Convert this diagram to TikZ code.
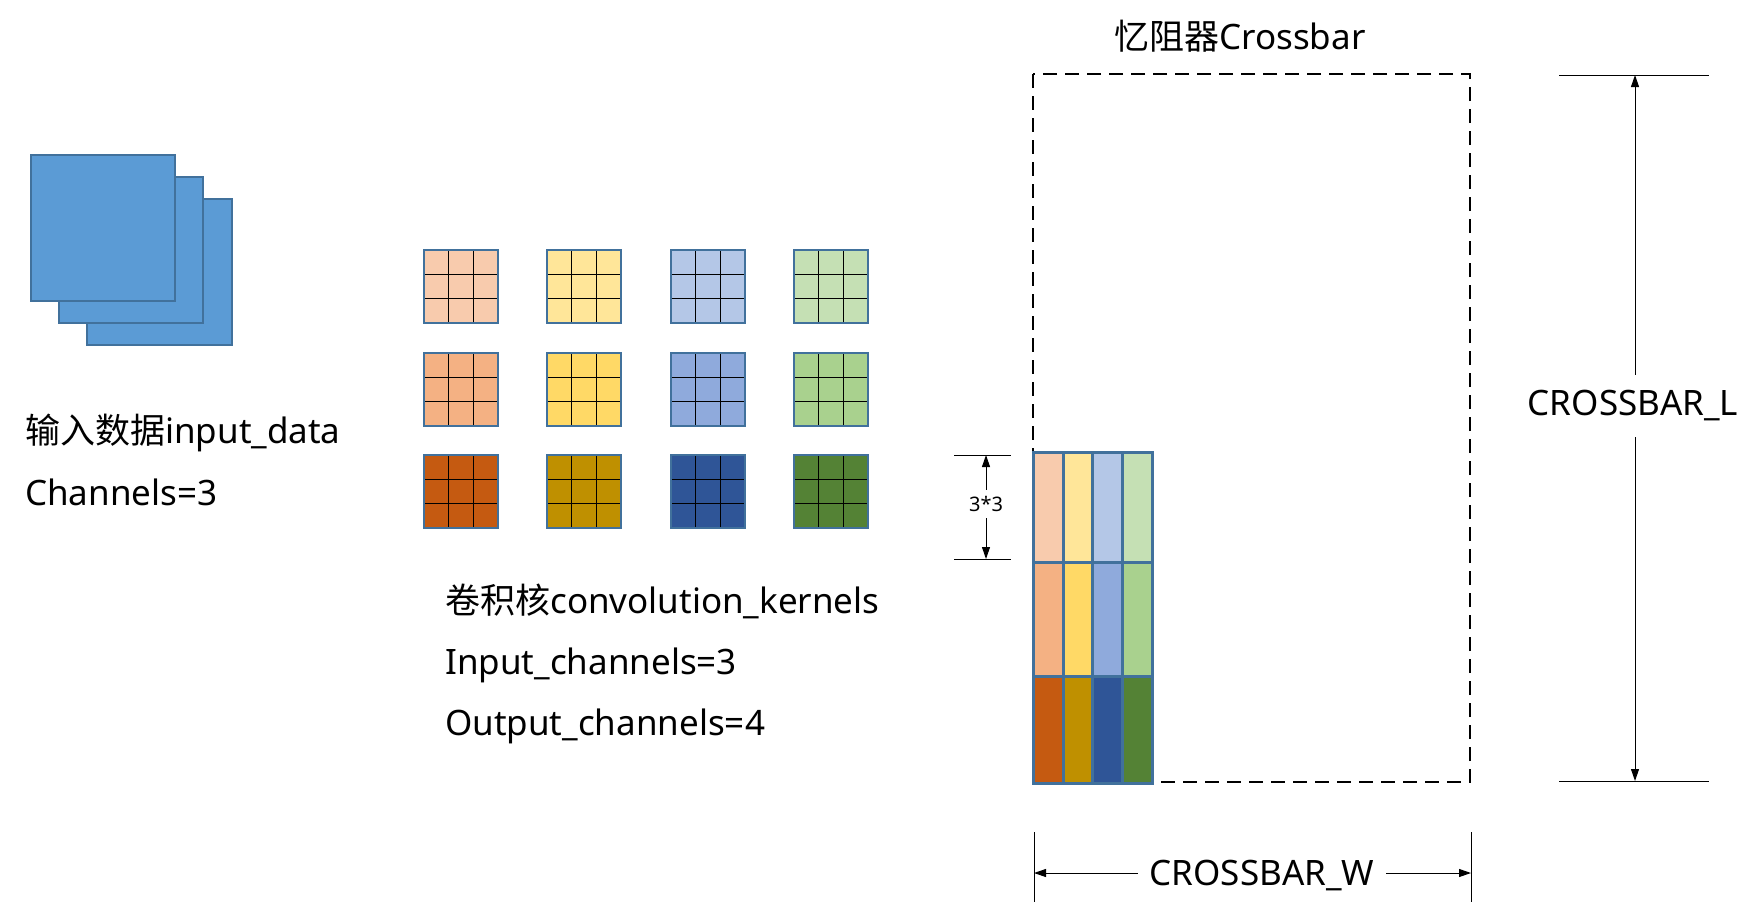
\documentclass[tikz,border=0pt]{standalone}
\usepackage{fontspec}
\setmainfont{Noto Sans}
\newfontfamily\cjk{Noto Sans CJK SC}
\usetikzlibrary{arrows.meta}
\definecolor{inblue}{HTML}{5B9BD5}
\definecolor{edgeblue}{HTML}{41719C}
\definecolor{ka1}{HTML}{F8CBAD}\definecolor{kb1}{HTML}{FFE699}\definecolor{kc1}{HTML}{B4C7E7}\definecolor{kd1}{HTML}{C5E0B4}
\definecolor{ka2}{HTML}{F4B183}\definecolor{kb2}{HTML}{FFD966}\definecolor{kc2}{HTML}{8FAADC}\definecolor{kd2}{HTML}{A9D18E}
\definecolor{ka3}{HTML}{C55A11}\definecolor{kb3}{HTML}{BF9000}\definecolor{kc3}{HTML}{2F5597}\definecolor{kd3}{HTML}{548235}
\begin{document}
\begin{tikzpicture}[x=1pt,y=-1pt,
  txt/.style={font=\fontsize{35}{42}\selectfont, inner sep=0pt, anchor=base west},
  ctxt/.style={font=\fontsize{35}{42}\selectfont, inner sep=0pt, anchor=base},
  sheet/.style={fill=inblue, draw=edgeblue, line width=2pt},
  kbox/.style={draw=edgeblue, line width=2pt},
  kgrid/.style={draw=black, line width=1pt},
  cell/.style={draw=edgeblue, line width=3pt},
  frame/.style={draw=black, line width=2pt, dash pattern=on 14pt off 8pt},
  dimline/.style={draw=black, line width=1pt},
  dimarrow/.style={draw=black, line width=1pt, {Triangle[length=12pt,width=8pt]}-{Triangle[length=12pt,width=8pt]}}
]
\useasboundingbox (0,0) rectangle (1761,918);

% input data sheets
\draw[sheet] (87,199) rectangle (232,345);
\draw[sheet] (59,177) rectangle (203,323);
\draw[sheet] (31,155) rectangle (175,301);

\node[txt] (inlab) at (25,443) {{\cjk 输入数据}input\_data};
\node[txt] (inch) at (25,505) {Channels=3};

% kernels
\foreach \c/\x in {a/424,b/547,c/671,d/794}{
  \foreach \r/\y in {1/250,2/353,3/455}{
    \fill[k\c\r] (\x,\y) rectangle ++(74,73);
    \draw[kgrid] ({\x+74/3},\y) -- ++(0,73);
    \draw[kgrid] ({\x+148/3},\y) -- ++(0,73);
    \draw[kgrid] (\x,{\y+73/3}) -- ++(74,0);
    \draw[kgrid] (\x,{\y+146/3}) -- ++(74,0);
    \draw[kbox] (\x,\y) rectangle ++(74,73);
  }
}

\node[txt] (klab) at (445,613) {{\cjk 卷积核}convolution\_kernels};
\node[txt] (kin) at (445,674) {Input\_channels=3};
\node[txt] (kout) at (445,735) {Output\_channels=4};

% crossbar
\node[ctxt] (title) at (1240,49) {{\cjk 忆阻器}Crossbar};
\draw[frame] (1033,74) rectangle (1470,782);

\foreach \c/\xa/\xb in {a/1033/1063,b/1063/1092,c/1092/1122,d/1122/1152}{
  \foreach \r/\ya/\yb in {1/452/562,2/562/676,3/676/783}{
    \draw[cell, fill=k\c\r] (\xa,\ya) rectangle (\xb,\yb);
  }
}

% 3*3 dimension
\coordinate (st) at (986,455);
\coordinate (sb) at (986,559);
\draw[dimline] (954,455) -- (1011,455);
\draw[dimline] (954,559) -- (1011,559);
\draw[dimarrow] (st) -- (sb);
\node[fill=white, inner xsep=1pt, inner ysep=6pt, font=\fontsize{20}{24}\selectfont] (s33) at (986,504) {3*3};

% CROSSBAR_L dimension
\coordinate (lt) at (1635,75);
\coordinate (lb) at (1635,781);
\draw[dimline] (1559,75) -- (1709,75);
\draw[dimline] (1559,781) -- (1709,781);
\draw[dimarrow] (lt) -- (lb);
\node[fill=white, inner xsep=2pt, inner ysep=16pt, font=\fontsize{35}{42}\selectfont] (cl) at (1633,406) {CROSSBAR\_L};

% CROSSBAR_W dimension
\coordinate (wl) at (1034,873);
\coordinate (wr) at (1471,873);
\draw[dimline] (1034,832) -- (1034,902);
\draw[dimline] (1471,832) -- (1471,902);
\draw[dimarrow] (wl) -- (wr);
\node[fill=white, inner xsep=12pt, inner ysep=4pt, font=\fontsize{35}{42}\selectfont] (cw) at (1262,875) {CROSSBAR\_W};
\end{tikzpicture}
\end{document}
